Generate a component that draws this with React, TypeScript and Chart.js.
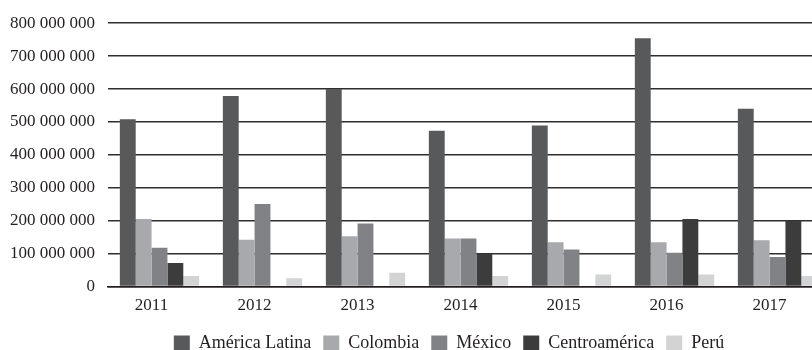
import React, { useEffect, useRef } from "react";
import { Chart, registerables } from "chart.js";

Chart.register(...registerables);

const years = ["2011", "2012", "2013", "2014", "2015", "2016", "2017"];
const americaLatina = [508e6, 579e6, 600e6, 473e6, 489e6, 754e6, 540e6];
const colombia = [205e6, 142e6, 153e6, 146e6, 135e6, 135e6, 141e6];
const mexico = [118e6, 251e6, 192e6, 146e6, 113e6, 103e6, 90e6];
const centroamerica = [72e6, null, null, 100e6, null, 205e6, 200e6];
const peru = [32e6, 25e6, 42e6, 32e6, 37e6, 37e6, 32e6];

const seriesNames = ["América Latina", "Colombia", "México", "Centroamérica", "Perú"];
const seriesColors = ["#58595b", "#a7a9ac", "#808285", "#3c3c3d", "#d1d3d4"];

const FONT = "'Liberation Serif', 'DejaVu Serif', serif";
const TEXT = "#231f20";

function fmt(v: number): string {
  if (v === 0) return "0";
  const s = Math.round(v).toString();
  return s.replace(/\B(?=(\d{3})+(?!\d))/g, " ");
}

export default function App() {
  const ref = useRef<HTMLCanvasElement | null>(null);
  useEffect(() => {
    if (!ref.current) return;
    const values = [americaLatina, colombia, mexico, centroamerica, peru];
    const chart = new Chart(ref.current, {
      type: "bar",
      data: {
        labels: years,
        datasets: values.map((d, i) => ({
          label: seriesNames[i],
          data: d,
          backgroundColor: seriesColors[i],
          borderWidth: 0,
          categoryPercentage: 0.77,
          barPercentage: 1.0,
        })),
      },
      options: {
        responsive: false,
        maintainAspectRatio: false,
        animation: false,
        layout: { padding: { left: 10, top: 4.5, right: 0, bottom: 0 } },
        plugins: {
          tooltip: { enabled: false },
          legend: {
            position: "bottom",
            labels: {
              boxWidth: 16,
              boxHeight: 15,
              padding: 12,
              color: TEXT,
              font: { family: FONT, size: 18 },
            },
          },
        },
        scales: {
          x: {
            grid: { display: false },
            border: { display: true, color: TEXT, width: 1.5 },
            ticks: {
              color: TEXT,
              font: { family: FONT, size: 17 },
              padding: 1,
              labelOffset: -8,
            },
            afterFit: (scale: any) => {
              scale.height += 5;
            },
          },
          y: {
            min: 0,
            max: 800e6,
            border: { display: false },
            grid: { color: "#2e2e2e", lineWidth: 1.5, drawTicks: false },
            ticks: {
              stepSize: 100e6,
              color: TEXT,
              font: { family: FONT, size: 17 },
              padding: 13,
              callback: (v: any) => fmt(Number(v)),
            },
            afterFit: (scale: any) => {
              scale.width = 98;
            },
          },
          yR: {
            type: "linear",
            position: "right",
            display: true,
            grid: { display: false },
            border: { display: false },
            ticks: { display: false },
            afterFit: (scale: any) => {
              scale.width = 59;
            },
          },
        },
      } as any,
    });
    return () => chart.destroy();
  }, []);

  return (
    <div
      style={{
        position: "fixed",
        left: 0,
        top: 0,
        width: 812,
        height: 350,
        overflow: "hidden",
        background: "#fff",
      }}
    >
      <canvas ref={ref} width={888} height={362} style={{ display: "block" }} />
    </div>
  );
}
